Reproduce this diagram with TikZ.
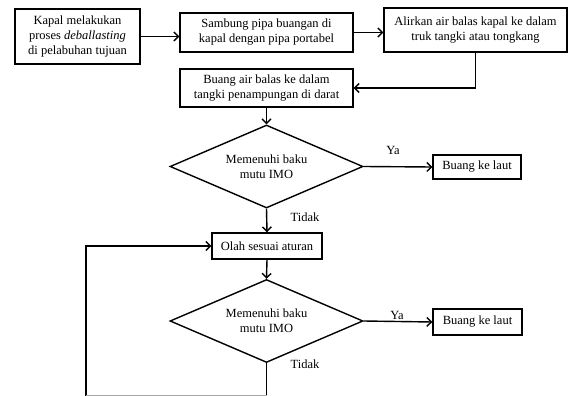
\documentclass[tikz,border=0pt]{standalone}
\usepackage{fontspec}
\setmainfont{Liberation Serif}
\usetikzlibrary{shapes.geometric,arrows.meta,positioning}

\begin{document}
\begin{tikzpicture}[x=1pt, y=-1pt,
    kotak/.style={draw, line width=1.4pt, rectangle, align=center, inner sep=0pt, font=\fontsize{12.5}{15}\selectfont},
    keputusan/.style={draw, line width=1.4pt, diamond, aspect=2.3, align=center, inner sep=0pt, minimum width=193pt, minimum height=83pt, font=\fontsize{12.5}{15}\selectfont},
    panah/.style={line width=1.4pt, -{Straight Barb[length=4.5pt,width=9pt]}},
    ket/.style={font=\fontsize{12.5}{14}\selectfont}]
    \useasboundingbox (0,0) rectangle (568,396);

    % Baris atas
    \node [kotak, minimum width=125pt, minimum height=55pt] (kapal) at (77.5,36.5)
        {Kapal melakukan\\ proses \textit{deballasting}\\ di pelabuhan tujuan};
    \node [kotak, minimum width=173pt, minimum height=39pt] (sambung) at (266.5,32.5)
        {Sambung pipa buangan di\\ kapal dengan pipa portabel};
    \node [kotak, minimum width=183pt, minimum height=44pt] (alirkan) at (475.5,30)
        {Alirkan air balas kapal ke dalam\\ truk tangki atau tongkang};
    \node [kotak, minimum width=173pt, minimum height=38pt] (buang) at (266.5,88)
        {Buang air balas ke dalam\\ tangki penampungan di darat};

    % Cek pertama
    \node [keputusan] (cek1) at (266.5,166.5) {Memenuhi baku\\ mutu IMO};
    \node [kotak, minimum width=88pt, minimum height=24pt] (laut1) at (477,167) {Buang ke laut};
    \node [kotak, minimum width=110pt, minimum height=26pt] (olah) at (267,246) {Olah sesuai aturan};

    % Cek kedua
    \node [keputusan] (cek2) at (266.5,321) {Memenuhi baku\\ mutu IMO};
    \node [kotak, minimum width=89pt, minimum height=26pt] (laut2) at (477.5,322) {Buang ke laut};

    \node [ket] (ya1) at (393,150) {Ya};
    \node [ket] (tidak1) at (305,217) {Tidak};
    \node [ket] (ya2) at (397,315) {Ya};
    \node [ket] (tidak2) at (305,364) {Tidak};

    \coordinate (bawah) at (266.5,396);
    \coordinate (kiri) at (86,396);

    % Panah
    \draw [panah] (kapal.east) -- (kapal.east -| sambung.west);
    \draw [panah] (sambung.east) -- (sambung.east -| alirkan.west);
    \draw [panah] (alirkan.south) |- (buang.east);
    \draw [panah] (buang.south) -- (cek1.north);
    \draw [panah] (cek1.east) -- (laut1.west);
    \draw [panah] (cek1.south) -- (olah.north);
    \draw [panah] (olah.south) -- (cek2.north);
    \draw [panah] (cek2.east) -- (laut2.west);
    \draw [line width=1.4pt] (cek2.south) -- (bawah);
    \draw [panah] (kiri) |- (olah.west);
    \draw [line width=1.2pt, black!35] (kiri) -- (bawah);
\end{tikzpicture}
\end{document}
